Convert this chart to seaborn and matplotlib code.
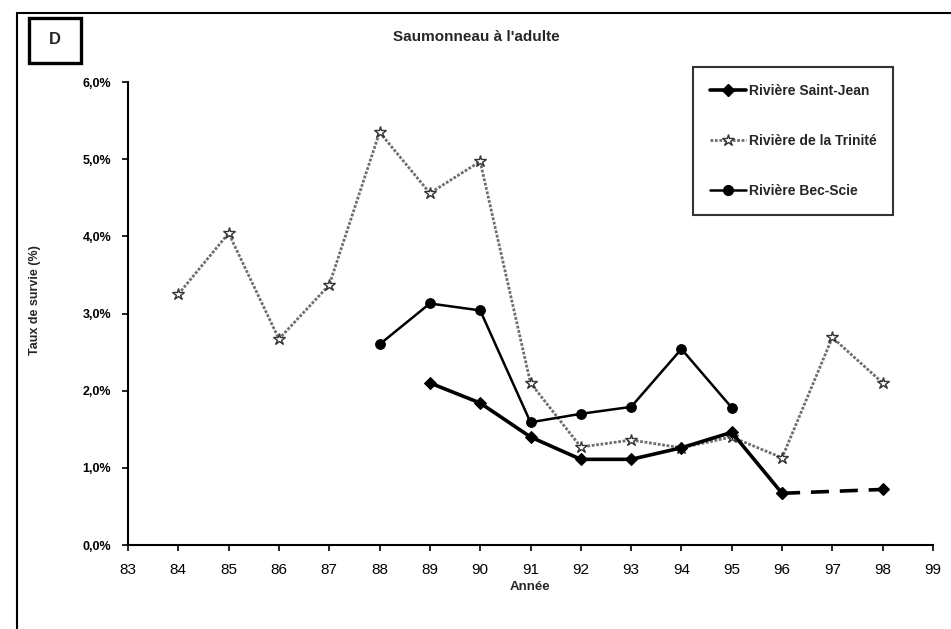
import matplotlib

matplotlib.use("Agg")

import matplotlib.pyplot as plt
import numpy as np
import pandas as pd
import seaborn as sns
from matplotlib.lines import Line2D
from matplotlib.patches import Rectangle
from matplotlib.ticker import FuncFormatter, MultipleLocator

# survival rates (%)
trinite_years = [84, 85, 86, 87, 88, 89, 90, 91, 92, 93, 94, 95, 96, 97, 98]
trinite_values = [3.25, 4.04, 2.67, 3.37, 5.35, 4.56, 4.97, 2.10, 1.27, 1.36, 1.26, 1.40, 1.13, 2.69, 2.10]

saint_jean_years = [89, 90, 91, 92, 93, 94, 95, 96, 98]
saint_jean_values = [2.10, 1.84, 1.40, 1.11, 1.11, 1.26, 1.46, 0.67, 0.72]

bec_scie_years = [88, 89, 90, 91, 92, 93, 94, 95]
bec_scie_values = [2.60, 3.13, 3.04, 1.59, 1.70, 1.79, 2.54, 1.78]

series_names = ["Rivière Saint-Jean", "Rivière de la Trinité", "Rivière Bec-Scie"]
x_ticks = list(range(83, 100))
y_ticks = [0, 1, 2, 3, 4, 5, 6]

sns.set_style("white")
plt.rcParams["font.family"] = ["Liberation Sans", "DejaVu Sans"]
plt.rcParams["font.weight"] = "bold"

fig = plt.figure(figsize=(9.51, 6.29), dpi=100)
ax = fig.add_axes([128 / 951, 1 - 545 / 629, (933 - 128) / 951, (545 - 82) / 629])

trinite = pd.DataFrame({"year": trinite_years, "value": trinite_values})
saint_jean = pd.DataFrame({"year": saint_jean_years, "value": saint_jean_values})
bec_scie = pd.DataFrame({"year": bec_scie_years, "value": bec_scie_values})
sj_solid = saint_jean[saint_jean["year"] <= 96]
sj_dashed = saint_jean[saint_jean["year"] >= 96]

grey = "#6e6e6e"
sns.lineplot(data=trinite, x="year", y="value", ax=ax, color=grey,
             linewidth=2.0, linestyle=(0, (1, 0.6)), marker="*", markersize=9,
             markerfacecolor="white", markeredgecolor="#333333", markeredgewidth=1.0)
sns.lineplot(data=bec_scie, x="year", y="value", ax=ax, color="black",
             linewidth=1.8, marker="o", markersize=7, markeredgecolor="black")
sns.lineplot(data=sj_solid, x="year", y="value", ax=ax, color="black",
             linewidth=2.6, marker="D", markersize=6, markeredgecolor="black")
sns.lineplot(data=sj_dashed, x="year", y="value", ax=ax, color="black",
             linewidth=2.6, linestyle=(0, (5, 3)), marker="D", markersize=6,
             markeredgecolor="black")

ax.set_xlim(83, 99)
ax.set_ylim(0, 6)
ax.set_xticks(x_ticks)
ax.set_yticks(y_ticks)
ax.yaxis.set_major_formatter(FuncFormatter(lambda v, _: f"{v:.1f}%".replace(".", ",")))
ax.tick_params(axis="both", which="major", direction="out", length=4, width=1.2,
               colors="black", left=True, bottom=True)
ax.tick_params(axis="y", pad=8, labelsize=9)
ax.tick_params(axis="x", pad=9, labelsize=11)
for lbl in ax.get_yticklabels():
    lbl.set_fontweight("bold")
for lbl in ax.get_xticklabels():
    lbl.set_fontweight("normal")
for side in ["top", "right"]:
    ax.spines[side].set_visible(False)
for side in ["left", "bottom"]:
    ax.spines[side].set_color("black")
    ax.spines[side].set_linewidth(1.5)

ax.set_xlabel("")
ax.set_ylabel("")
fig.text(35 / 951, 1 - 300 / 629, "Taux de survie (%)", rotation=90, ha="center",
         va="center", fontsize=9, fontweight="bold")
fig.text(530 / 951, 1 - 587 / 629, "Année", ha="center", va="center",
         fontsize=9.5, fontweight="bold")
fig.text(476 / 951, 1 - 37 / 629, "Saumonneau à l'adulte", ha="center", va="center",
         fontsize=11, fontweight="bold")

# outer frame (only top and left edges visible in the scan)
fig.add_artist(Line2D([17 / 951, 1], [1 - 13 / 629, 1 - 13 / 629], color="black", lw=1.5))
fig.add_artist(Line2D([17 / 951, 17 / 951], [0, 1 - 13 / 629], color="black", lw=1.5))

# panel letter box
fig.add_artist(Rectangle((29 / 951, 1 - 63 / 629), 52 / 951, 45 / 629, transform=fig.transFigure,
                         facecolor="white", edgecolor="black", lw=2.4))
fig.text(55 / 951, 1 - 39 / 629, "D", ha="center", va="center", fontsize=12, fontweight="bold")

handles = [
    Line2D([], [], color="black", lw=2.6, marker="D", markersize=6),
    Line2D([], [], color=grey, lw=2.0, linestyle=(0, (1, 0.6)), marker="*", markersize=9,
           markerfacecolor="white", markeredgecolor="#333333"),
    Line2D([], [], color="black", lw=1.8, marker="o", markersize=7),
]
leg = fig.legend(handles, series_names, loc="upper left",
                 bbox_to_anchor=(693 / 951, 1 - 67 / 629), frameon=True, fancybox=False,
                 borderpad=1.2, labelspacing=2.6, handlelength=2.6, handletextpad=0.2,
                 borderaxespad=0, prop={"size": 10, "weight": "bold"})
leg.get_frame().set_edgecolor("black")
leg.get_frame().set_linewidth(1.5)

fig.savefig("out.png", dpi=100)
